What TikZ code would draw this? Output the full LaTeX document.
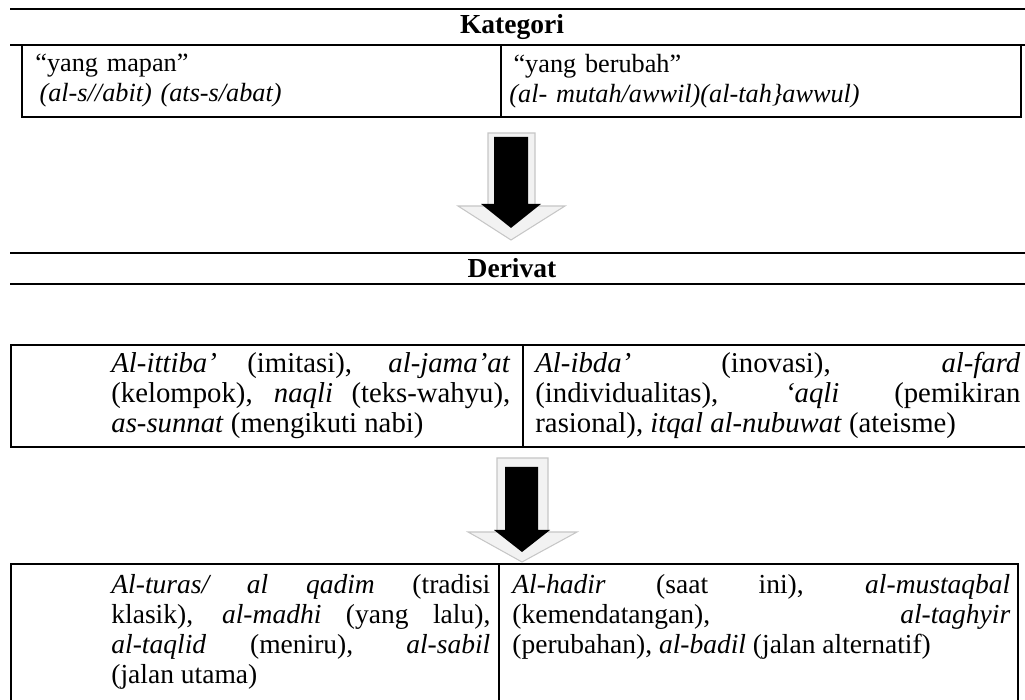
\documentclass[tikz,border=0pt]{standalone}
\usepackage{fontspec}
\setmainfont{Liberation Serif}
\usetikzlibrary{positioning}
\tikzstyle{rule} = [line width=1.3pt]
\tikzstyle{frame} = [line width=0.9pt]
\tikzstyle{heading} = [inner sep=0pt, font=\fontsize{13.2}{15}\selectfont\bfseries]
\tikzstyle{celltext} = [anchor=north west, inner sep=0pt, font=\fontsize{13.2}{14.4}\selectfont]
\tikzstyle{arrowside} = [fill=gray!10, draw=gray!45, line width=0.5pt]
\tikzstyle{arrowface} = [fill=black]

\begin{document}
\begin{tikzpicture}[x=0.48pt, y=-0.48pt]
\useasboundingbox (0,0) rectangle (1025,700);

% Kategori
\draw [rule] (10,9) -- (1025,9);
\node (kategori) [heading] at (512,27) {Kategori};
\draw [rule] (10,45) -- (1025,45);
\draw [frame] (22,45) rectangle (1021,117);
\draw [frame] (501,45) -- (501,117);
\node (mapan) [celltext, font=\fontsize{12.6}{14.4}\selectfont, text width=220pt, align=left] at (35,54) {“yang mapan”\\\hspace*{2pt}\textit{(al-s//abit) (ats-s/abat)}};
\node (berubah) [celltext, font=\fontsize{12.6}{14.4}\selectfont, text width=235pt, align=left] at (509,54) {\hspace*{2pt}“yang berubah”\\\textit{(al- mutah/awwil)(al-tah\}awwul)}};

% first arrow
\coordinate (tip1) at (511,240);
\filldraw [arrowside] (tip1) -- ++(-53,-34) -- ++(30,0) -- ++(0,-73) -- ++(47,0) -- ++(0,73) -- ++(30,0) -- cycle;
\fill [arrowface] ([yshift=5.8pt]tip1) -- ++(-30,-24) -- ++(13,0) -- ++(0,-67) -- ++(34,0) -- ++(0,67) -- ++(13,0) -- cycle;

% Derivat
\draw [rule] (10,253) -- (1025,253);
\node (derivat) [heading] at (512,268) {Derivat};
\draw [rule] (10,284) -- (1025,284);

% second row
\draw [frame] (11,345) rectangle (1040,447);
\draw [frame] (523,345) -- (523,447);
\node (ittiba) [celltext, font=\fontsize{13.8}{14.4}\selectfont, text width=191.5pt, align=justify] at (111,352) {\textit{Al-ittiba’} (imitasi), \textit{al-jama’at}\linebreak (kelompok), \textit{naqli} (teks-wahyu),\linebreak \textit{as-sunnat} (mengikuti nabi)};
\node (ibda) [celltext, font=\fontsize{13.8}{14.4}\selectfont, text width=232.8pt, align=justify] at (535,352) {\textit{Al-ibda’} (inovasi), \textit{al-fard}\linebreak (individualitas), \textit{‘aqli} (pemikiran\linebreak rasional), \textit{itqal al-nubuwat} (ateisme)};

% second arrow
\coordinate (tip2) at (522,562);
\filldraw [arrowside] (tip2) -- ++(-54,-30) -- ++(29,0) -- ++(0,-74) -- ++(51,0) -- ++(0,74) -- ++(29,0) -- cycle;
\fill [arrowface] ([yshift=4.8pt]tip2) -- ++(-28,-22) -- ++(11,0) -- ++(0,-63) -- ++(33,0) -- ++(0,63) -- ++(12,0) -- cycle;

% third row
\draw [frame] (11,720) -- (11,564) -- (1018,564) -- (1018,720);
\draw [frame] (499,564) -- (499,720);
\node (turas) [celltext, text width=181.9pt, align=justify] at (111,574) {\textit{Al-turas/ al qadim} (tradisi\linebreak klasik), \textit{al-madhi} (yang lalu),\linebreak \textit{al-taqlid} (meniru), \textit{al-sabil}\linebreak (jalan utama)};
\node (hadir) [celltext, text width=239pt, align=justify] at (512,574) {\textit{Al-hadir} (saat ini), \textit{al-mustaqbal}\linebreak (kemendatangan), \textit{al-taghyir}\linebreak (perubahan), \textit{al-badil} (jalan alternatif)};

\end{tikzpicture}
\end{document}
